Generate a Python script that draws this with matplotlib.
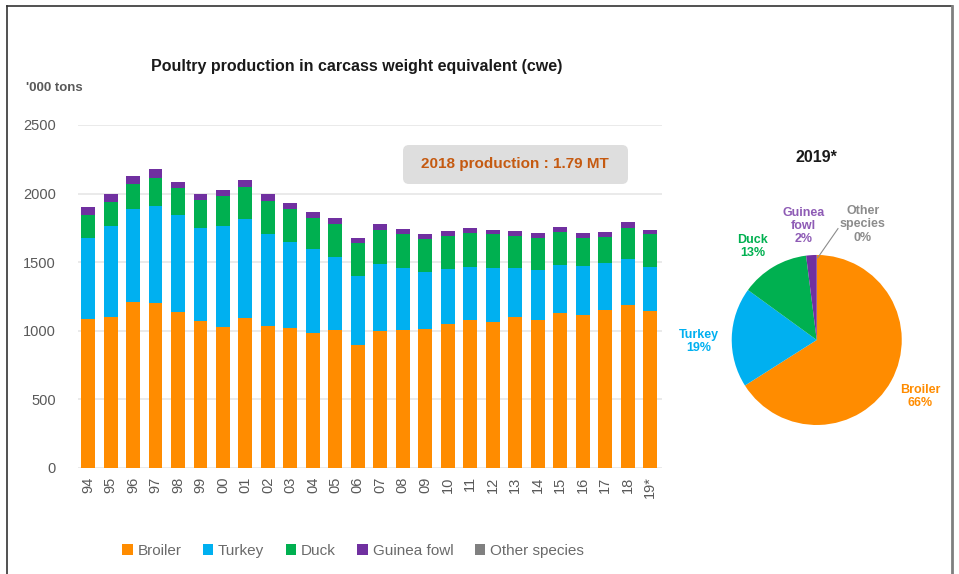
import matplotlib
matplotlib.use("Agg")
import matplotlib.pyplot as plt
import numpy as np
from matplotlib.patches import FancyBboxPatch
from matplotlib.lines import Line2D
from matplotlib.transforms import IdentityTransform

plt.rcParams['font.family'] = ['Liberation Sans', 'DejaVu Sans']

# '000 tons cwe, per year
years = ['94', '95', '96', '97', '98', '99', '00', '01', '02', '03', '04', '05', '06',
         '07', '08', '09', '10', '11', '12', '13', '14', '15', '16', '17', '18', '19*']
broiler = [1086, 1103, 1212, 1200, 1137, 1069, 1025, 1091, 1035, 1023, 986, 1003, 897,
           1001, 1006, 1013, 1047, 1079, 1064, 1103, 1076, 1132, 1115, 1152, 1186, 1144]
turkey = [588, 661, 673, 712, 707, 678, 741, 724, 673, 622, 608, 537, 505,
          483, 449, 418, 401, 388, 396, 357, 365, 348, 360, 340, 340, 323]
duck = [168, 177, 185, 199, 194, 206, 216, 233, 240, 240, 231, 236, 236,
        251, 251, 238, 243, 246, 243, 233, 238, 243, 199, 192, 226, 239]
guinea = [58, 56, 61, 66, 47, 44, 47, 51, 47, 44, 41, 44, 38,
          41, 38, 37, 34, 34, 32, 32, 34, 34, 36, 34, 39, 26]
other = [0] * 26

species = ['Broiler', 'Turkey', 'Duck', 'Guinea fowl', 'Other species']
colors = ['#ff8c00', '#00b0f0', '#00b050', '#7030a0', '#808080']

# 2019 shares (%)
share_2019 = [66, 19, 13, 2, 0]
pie_labels = ['Broiler\n66%', 'Turkey\n19%', 'Duck\n13%', 'Guinea\nfowl\n2%', 'Other\nspecies\n0%']
label_xy = [(1.215, -0.668), (-1.388, -0.02), (-0.752, 1.10), (-0.155, 1.34), (0.54, 1.36)]
label_colors = ['#ff8c00', '#00b0f0', '#00b050', '#8e5bb5', '#8c8c8c']

fig = plt.figure(figsize=(9.59, 5.74), dpi=100)
grey = '#595959'

ax = fig.add_axes([0.0813, 0.1847, 0.609, 0.5976])
x = np.arange(len(years))
bottom = np.zeros(len(years))
for vals, name, c in zip([broiler, turkey, duck, guinea, other], species, colors):
    ax.bar(x, vals, 0.62, bottom=bottom, color=c, label=name, zorder=2)
    bottom += np.array(vals)

ax.set_ylim(0, 2500)
ax.set_xlim(-0.45, len(years) - 0.47)
ax.set_yticks(np.arange(0, 2501, 500))
ax.set_xticks(x)
ax.set_xticklabels(years, rotation=90)
ax.tick_params(length=0, colors=grey, labelsize=10.5)
ax.tick_params(axis='y', pad=16)
ax.tick_params(axis='x', pad=6)
ax.grid(axis='y', color='#e6e6e6', linewidth=1.2, zorder=0)
for s in ax.spines.values():
    s.set_visible(False)

fig.text(0.372, 0.885, 'Poultry production in carcass weight equivalent (cwe)',
         ha='center', va='center', fontsize=11.5, fontweight='bold', color='#1a1a1a')
fig.text(0.027, 0.846, "'000 tons", ha='left', va='center', fontsize=9.5,
         fontweight='bold', color=grey)

# 2018 call-out
box = FancyBboxPatch((403, 574 - 184), 225, 39, boxstyle='round,pad=0,rounding_size=6',
                     transform=IdentityTransform(), fc='#dedede', ec='none')
fig.add_artist(box)
fig.text(515 / 959, 1 - 164 / 574, '2018 production : 1.79 MT', ha='center', va='center',
         fontsize=11, fontweight='bold', color='#c55a11')

leg = fig.legend(loc='center', bbox_to_anchor=(0.368, 0.04), ncol=5, frameon=False,
                 fontsize=11, handlelength=0.7, handleheight=0.7, handletextpad=0.3,
                 columnspacing=1.4, labelcolor='#6a6a6a')

# 2019 pie
pax = fig.add_axes([0.763, 0.2596, 0.1773, 0.2962])
pax.pie(share_2019, colors=colors, startangle=90, counterclock=False)
pax.set_xlim(-1, 1)
pax.set_ylim(-1, 1)
for lab, (lx, ly), c in zip(pie_labels, label_xy, label_colors):
    pax.text(lx, ly, lab, ha='center', va='center', fontsize=9, fontweight='bold',
             color=c, linespacing=1.15)
pax.plot([0.25, 0.01], [1.31, 0.965], color='#8c8c8c', lw=0.8, clip_on=False)
fig.text(816 / 959, 1 - 157 / 574, '2019*', ha='center', va='center', fontsize=11.5,
         fontweight='bold', color='#1a1a1a')

# page frame
fig.add_artist(Line2D([7 / 959, 7 / 959], [0, 1 - 6 / 574], color='#333333', lw=1.2))
fig.add_artist(Line2D([7 / 959, 952 / 959], [1 - 6 / 574, 1 - 6 / 574], color='#333333', lw=1.2))
fig.add_artist(Line2D([952 / 959, 952 / 959], [0, 1 - 6 / 574], color='#7f7f7f', lw=2))

fig.savefig('out.png', dpi=100)
